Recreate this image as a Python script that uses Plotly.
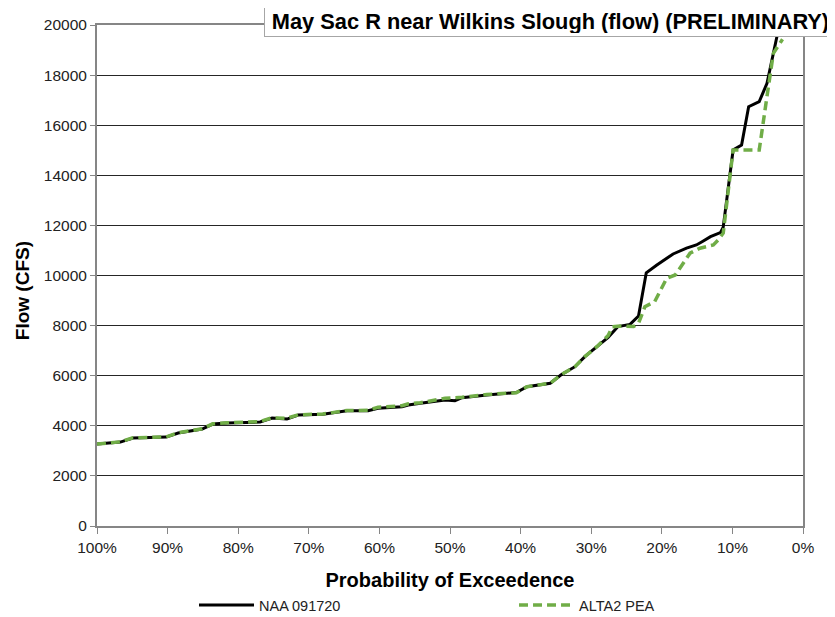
import plotly.graph_objects as go

# Probability of exceedance (%) and flow (cfs)
naa_prob = [100, 96.7, 94.9, 90.2, 88.5, 85.1, 83.6, 81.6, 76.9, 75.2, 73.1, 71.5, 68.0,
            66.5, 64.6, 61.6, 60.2, 56.8, 55.9, 54.2, 52.4, 50.7, 49.3, 48.3, 44.8, 40.6,
            39.1, 35.8, 34.3, 32.3, 30.9, 29.2, 27.6, 26.2, 24.5, 23.3, 22.2, 20.7, 18.4,
            16.5, 15.1, 14.3, 13.1, 11.7, 11.3, 9.9, 8.7, 7.7, 6.2, 5.1, 3.7, 3.0]
naa_flow = [3270, 3350, 3510, 3550, 3710, 3870, 4070, 4110, 4150, 4310, 4270, 4430, 4460,
            4520, 4600, 4600, 4700, 4760, 4830, 4900, 4960, 5030, 5000, 5120, 5230, 5330,
            5560, 5700, 6030, 6360, 6760, 7160, 7530, 7960, 8050, 8380, 10110, 10420, 10860,
            11090, 11220, 11350, 11550, 11710, 11930, 15010, 15210, 16740, 16940, 17670, 19530, 20800]

alt_prob = [100, 96.7, 94.9, 90.2, 88.5, 85.1, 83.6, 81.6, 76.9, 75.2, 73.1, 71.5, 68.0,
            66.5, 64.6, 61.6, 60.2, 56.8, 55.9, 54.2, 52.4, 50.7, 49.3, 48.3, 44.8, 40.6,
            39.1, 35.8, 34.3, 32.3, 30.9, 29.2, 27.6, 27.0, 25.9, 24.0, 23.3, 22.4, 21.0,
            19.3, 18.1, 16.0, 14.6, 12.7, 12.0, 11.3, 9.9, 6.2, 5.1, 4.2, 2.9]
alt_flow = [3270, 3360, 3520, 3560, 3720, 3880, 4080, 4120, 4170, 4320, 4300, 4440, 4470,
            4540, 4610, 4620, 4740, 4800, 4880, 4920, 5020, 5100, 5120, 5140, 5250, 5320,
            5560, 5700, 6030, 6360, 6760, 7160, 7600, 7950, 7980, 7960, 8090, 8750, 8960,
            9890, 10020, 10890, 11090, 11220, 11420, 11690, 15010, 15010, 17150, 18870, 19430]

x_ticks = [100, 90, 80, 70, 60, 50, 40, 30, 20, 10, 0]
x_tick_text = ["100%", "90%", "80%", "70%", "60%", "50%", "40%", "30%", "20%", "10%", "0%"]

FONT = "Liberation Sans, Arial, sans-serif"

fig = go.Figure()
fig.add_trace(go.Scatter(x=naa_prob, y=naa_flow, mode="lines", name="NAA 091720",
                         line=dict(color="#000000", width=3), legend="legend"))
fig.add_trace(go.Scatter(x=alt_prob, y=alt_flow, mode="lines", name="ALTA2 PEA",
                         line=dict(color="#70AD47", width=3.5, dash="9px,5px"),
                         legend="legend2"))

leg_common = dict(orientation="h", xanchor="left", y=-0.158, yanchor="middle",
                  itemwidth=55, font=dict(size=14.5, family=FONT, color="#222222"),
                  bgcolor="rgba(0,0,0,0)")

# The page body has an 8px default margin, so the figure is sized/offset to compensate
# (the extra area at the right/bottom falls outside the visible window).
fig.update_layout(
    width=835, height=640,
    margin=dict(l=89, r=40, t=17, b=122),
    paper_bgcolor="white", plot_bgcolor="white",
    font=dict(family=FONT, color="#222222"),
    showlegend=True,
    legend=dict(x=0.1374, **leg_common),
    legend2=dict(x=0.5907, **leg_common),
    xaxis=dict(range=[100, 0], tickvals=x_ticks, ticktext=x_tick_text,
               showgrid=False, zeroline=False, automargin=False,
               showline=True, linecolor="#868686", linewidth=2, mirror=True,
               ticks="outside", ticklen=6, tickcolor="#868686", tickwidth=1,
               tickfont=dict(size=15.5, family=FONT, color="#222222"),
               title=dict(text="<b>Probability of Exceedence</b>",
                          font=dict(size=20, family=FONT, color="#000000"), standoff=18)),
    yaxis=dict(range=[0, 20000], dtick=2000, tick0=0, tickformat="d",
               showgrid=True, gridcolor="#262626", gridwidth=1, zeroline=False,
               automargin=False,
               showline=True, linecolor="#868686", linewidth=2, mirror=True,
               ticks="outside", ticklen=5, tickcolor="#868686", tickwidth=1,
               tickfont=dict(size=15.5, family=FONT, color="#222222")),
    annotations=[
        dict(text="<b>May Sac R near Wilkins Slough (flow) (PRELIMINARY)</b>",
             xref="paper", yref="paper", x=0.642, y=1.008, xanchor="center", yanchor="middle",
             width=565, height=24, align="center", valign="middle",
             showarrow=False, font=dict(size=21.8, family=FONT, color="#000000"),
             bgcolor="white", bordercolor="#A6A6A6", borderwidth=1, borderpad=3),
        dict(text="<b>Flow (CFS)</b>", textangle=-90,
             xref="paper", yref="paper", x=-0.106, y=0.469, xanchor="center", yanchor="middle",
             showarrow=False, font=dict(size=19, family=FONT, color="#000000")),
    ],
)

fig.write_html("out.html")
